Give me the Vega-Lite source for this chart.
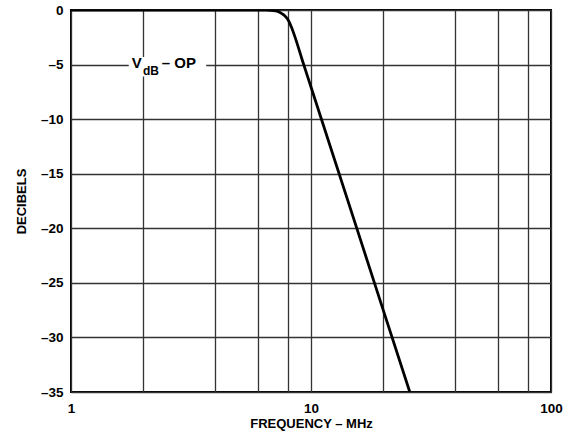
{
  "$schema": "https://vega.github.io/schema/vega-lite/v6.json",
  "autosize": "none",
  "width": 480,
  "height": 382,
  "padding": {"left": 71, "top": 10, "right": 26, "bottom": 47},
  "background": "white",
  "config": {
    "view": {"stroke": "black", "strokeWidth": 2},
    "font": "Liberation Sans",
    "axis": {
      "labelFont": "Liberation Sans",
      "labelFontWeight": "bold",
      "labelFontSize": 13.5,
      "labelColor": "black",
      "titleFont": "Liberation Sans",
      "titleFontWeight": "bold",
      "titleFontSize": 13,
      "titleColor": "black",
      "gridColor": "#333333",
      "gridWidth": 1.3,
      "gridOpacity": 1,
      "ticks": false,
      "domain": false
    }
  },
  "datasets": {
    "response": [
      {"freq": 1, "db": 0},
      {"freq": 6.5, "db": 0},
      {"freq": 7.0, "db": -0.05},
      {"freq": 7.4, "db": -0.2},
      {"freq": 7.7, "db": -0.45},
      {"freq": 8.0, "db": -0.85},
      {"freq": 8.3, "db": -1.6},
      {"freq": 8.6, "db": -2.55},
      {"freq": 9.2, "db": -4.6},
      {"freq": 10, "db": -7.05},
      {"freq": 15, "db": -19.0},
      {"freq": 20, "db": -27.5},
      {"freq": 25.8, "db": -35}
    ],
    "labelbox": [{"f1": 1.74, "f2": 3.66, "d1": -4.3, "d2": -6.1}],
    "mainlabel": [
      {"text": "V", "freq": 1.79, "db": -5.35},
      {"text": "– OP", "freq": 2.39, "db": -5.35}
    ],
    "sublabel": [{"text": "dB", "freq": 1.995, "db": -6.0}]
  },
  "layer": [
    {
      "data": {"name": "labelbox"},
      "mark": {"type": "rect", "fill": "white", "stroke": null},
      "encoding": {
        "x": {
          "field": "f1", "type": "quantitative",
          "scale": {"type": "log", "domain": [1, 100], "nice": false},
          "axis": {
            "values": [1, 2, 4, 6, 8, 10, 20, 40, 60, 80, 100],
            "labelExpr": "datum.value == 1 || datum.value == 10 || datum.value == 100 ? datum.label : ''",
            "title": "FREQUENCY – MHz",
            "labelPadding": 9,
            "titlePadding": 3,
            "labelFlush": false,
            "labelOverlap": false
          }
        },
        "x2": {"field": "f2"},
        "y": {
          "field": "d1", "type": "quantitative",
          "scale": {"domain": [-35, 0], "nice": false},
          "axis": {
            "values": [-35, -30, -25, -20, -15, -10, -5, 0],
            "labelExpr": "replace(datum.label, '−', '–')",
            "title": "DECIBELS",
            "labelPadding": 8,
            "titlePadding": 12
          }
        },
        "y2": {"field": "d2"}
      }
    },
    {
      "data": {"name": "response"},
      "mark": {"type": "line", "color": "black", "strokeWidth": 2.8, "interpolate": "monotone", "clip": true},
      "encoding": {
        "x": {"field": "freq", "type": "quantitative"},
        "y": {"field": "db", "type": "quantitative"}
      }
    },
    {
      "data": {"name": "mainlabel"},
      "mark": {"type": "text", "align": "left", "baseline": "alphabetic", "fontSize": 15, "fontWeight": "bold", "font": "Liberation Sans", "color": "black"},
      "encoding": {
        "x": {"field": "freq", "type": "quantitative"},
        "y": {"field": "db", "type": "quantitative"},
        "text": {"field": "text"}
      }
    },
    {
      "data": {"name": "sublabel"},
      "mark": {"type": "text", "align": "left", "baseline": "alphabetic", "fontSize": 12, "fontWeight": "bold", "font": "Liberation Sans", "color": "black"},
      "encoding": {
        "x": {"field": "freq", "type": "quantitative"},
        "y": {"field": "db", "type": "quantitative"},
        "text": {"field": "text"}
      }
    }
  ]
}
